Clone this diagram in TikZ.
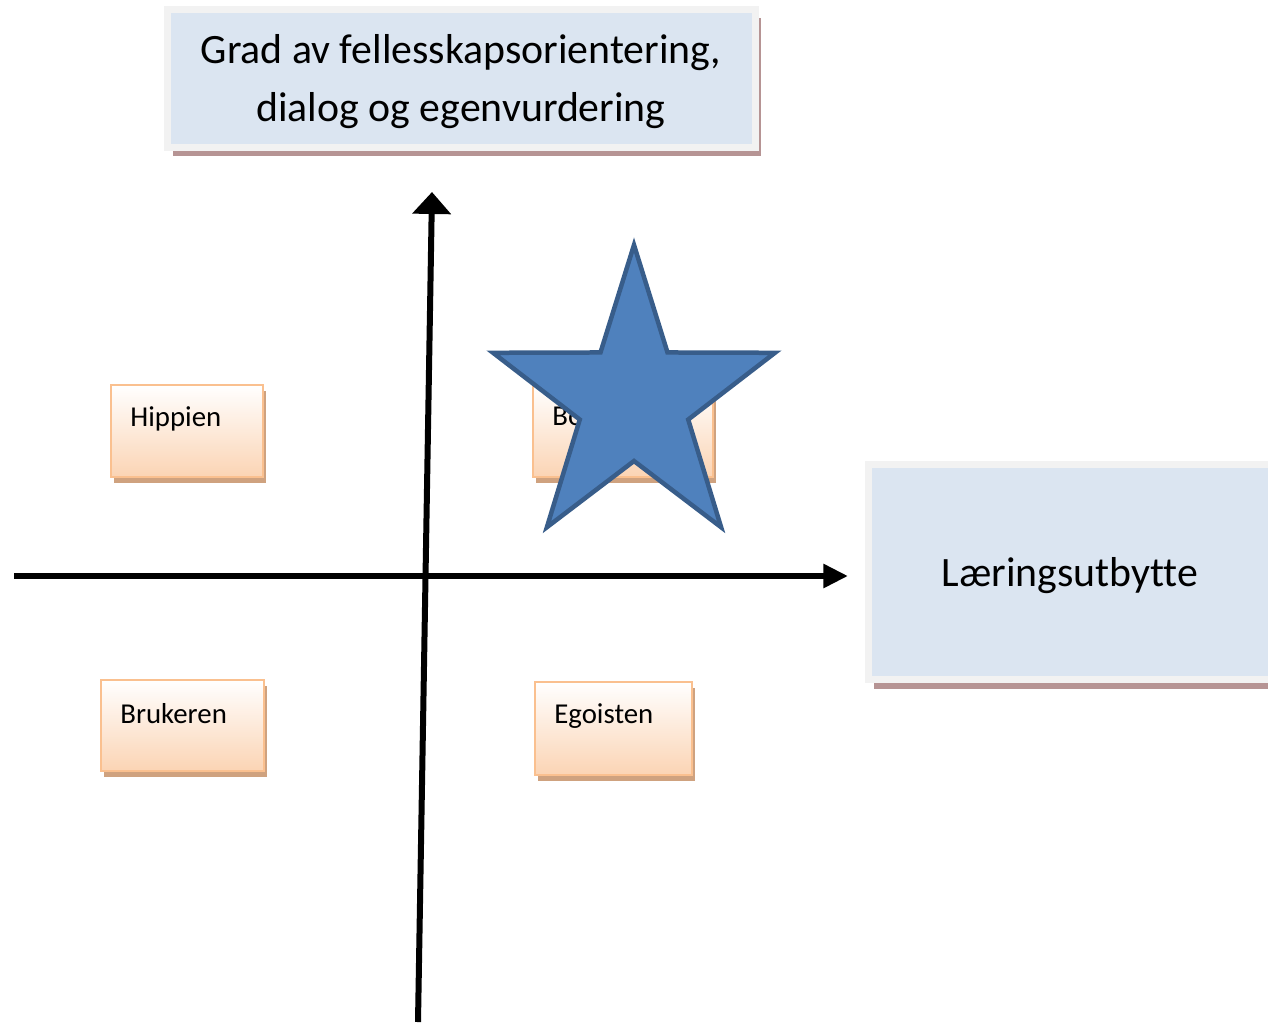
\documentclass[tikz,border=0pt]{standalone}
\usepackage{fontspec}
\setmainfont{Carlito}[Ligatures=NoCommon]
\usetikzlibrary{shadows}
\usetikzlibrary{positioning}
\usetikzlibrary{arrows.meta}
\usetikzlibrary{calc}
\definecolor{boxblue}{HTML}{DBE5F1}
\definecolor{framegray}{HTML}{F2F2F2}
\definecolor{shadowrose}{HTML}{B69494}
\definecolor{peachline}{HTML}{FAC08F}
\definecolor{peachfill}{HTML}{FBD4B4}
\definecolor{peachshadow}{HTML}{CFA27F}
\definecolor{starblue}{HTML}{4F81BD}
\definecolor{stardark}{HTML}{385D8A}
\def\px{0.02cm}
\newcommand{\nedtekst}[2]{\raisebox{-#1}[\height][\depth]{#2}}
\tikzstyle{axisbox}=[rectangle,fill=boxblue,draw=framegray,line width=0.14cm,general shadow={fill=shadowrose,shadow xshift=3.4pt,shadow yshift=-5.2pt},font=\fontsize{23.8}{33.5}\selectfont,align=center]
\tikzstyle{typebox}=[rectangle,draw=peachline,line width=0.04cm,top color=white,bottom color=peachfill,general shadow={fill=peachshadow,shadow xshift=1.9pt,shadow yshift=-3.6pt}]
\tikzstyle{typelabel}=[font=\fontsize{16.4}{20}\selectfont,anchor=west,inner sep=0pt]
\tikzstyle{axisline}=[draw,line width=0.12cm]
\tikzstyle{starshape}=[fill=starblue,draw=stardark,line width=0.09cm,line join=miter]

\begin{document}
\begin{tikzpicture}[x=\px, y=-\px]

  \clip (0,0) rectangle (1268,1025);
  \fill[white] (0,0) rectangle (1268,1025);

  % aksene
  \coordinate (west) at (14,576);
  \coordinate (east) at (848,576);
  \coordinate (south) at (418,1022);
  \coordinate (north) at (432,192);
  \draw[axisline,-{Triangle[width=13pt,length=14pt]}] (west) -- (east);
  \draw[axisline,-{Triangle[width=21.5pt,length=12.5pt]}] (south) -- (north);

  % aksetitler
  \node[axisbox,minimum width=588*\px,minimum height=138*\px] (grad) at (461,78) {\nedtekst{2pt}{Grad av fellesskapsorientering,}\\\nedtekst{2pt}{dialog og egenvurdering}};
  \node[axisbox,minimum width=404*\px,minimum height=215*\px] (utbytte) at (1070,572) {\nedtekst{2.3pt}{Læringsutbytte}};

  % typene
  \foreach \x/\y/\w/\h/\name/\label in {187/431/152/92/hippien/Hippien, 623/431/180/92/borger/Borgeren, 182.5/725.5/163/91/bruker/Brukeren, 613.5/728.5/157/93/egoist/Egoisten}
  {
    \node[typebox,minimum width=\w*\px,minimum height=\h*\px] (\name) at (\x,\y) {};
    \node[typelabel] (\name-txt) at ([xshift=0.4cm,yshift=-0.7cm]\name.north west) {\label};
  }

  % stjerna
  \begin{scope}[shift={(634,401)},xscale=0.95]
    \draw[starshape] (270:156) -- (306:60) -- (342:156) -- (18:60) -- (54:156) -- (90:60) -- (126:156) -- (162:60) -- (198:156) -- (234:60) -- cycle;
  \end{scope}

\end{tikzpicture}
\end{document}
